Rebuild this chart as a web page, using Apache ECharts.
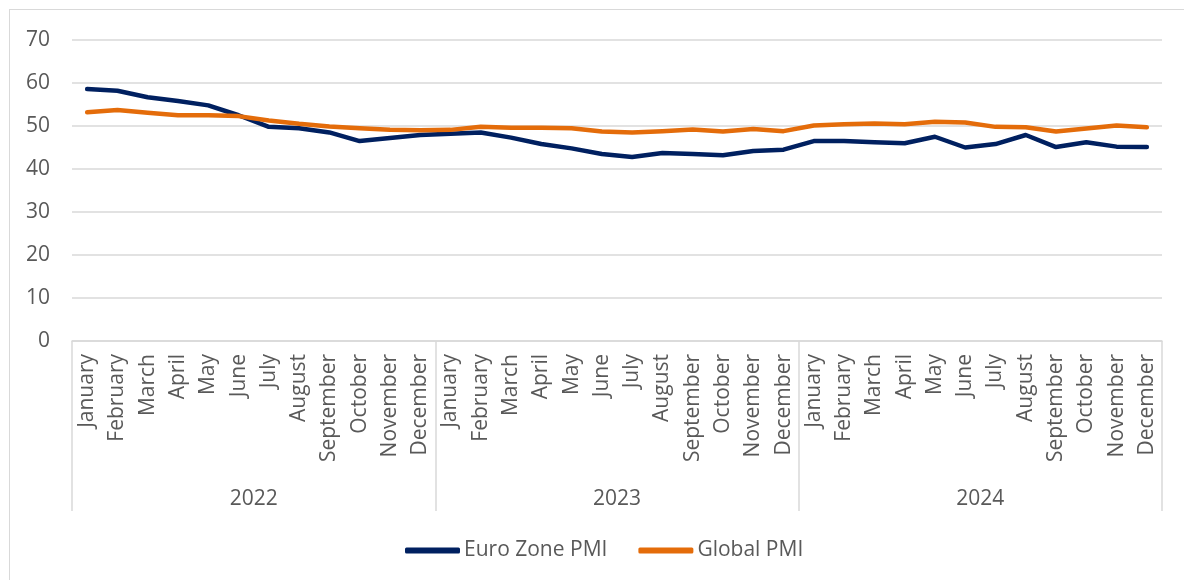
<!DOCTYPE html>
<html>
<head>
<meta charset="utf-8">
<script src="https://cdn.jsdelivr.net/npm/echarts@6/dist/echarts.min.js"></script>
<style>
html,body{margin:0;padding:0;background:#fff;}
#wrap{position:relative;width:1184px;height:580px;}
#chart{position:absolute;left:0;top:0;width:1184px;height:580px;}
#frame{position:absolute;left:9px;top:9px;right:0;bottom:0;border-left:1.5px solid #d9d9d9;border-top:1.5px solid #d9d9d9;pointer-events:none;}
</style>
</head>
<body>
<div id="wrap"><div id="chart"></div><div id="frame"></div></div>
<script>
const monthNames = ['January','February','March','April','May','June','July','August','September','October','November','December'];
const years = ['2022','2023','2024'];
const categories = [].concat(monthNames, monthNames, monthNames);
const euroZonePMI = [58.6,58.2,56.7,55.8,54.8,52.5,49.8,49.5,48.5,46.5,47.2,47.9,
                     48.2,48.5,47.3,45.8,44.8,43.5,42.8,43.7,43.5,43.2,44.2,44.5,
                     46.5,46.5,46.2,46.0,47.5,45.0,45.8,47.9,45.1,46.2,45.2,45.1];
const globalPMI = [53.2,53.7,53.1,52.5,52.5,52.3,51.3,50.5,49.9,49.5,49.1,49.0,
                   49.1,49.8,49.6,49.6,49.5,48.7,48.5,48.8,49.2,48.7,49.3,48.8,
                   50.1,50.4,50.6,50.4,51.0,50.8,49.8,49.7,48.7,49.4,50.1,49.7];
const yTicks = [0,10,20,30,40,50,60,70];

const FONT = "'Open Sans', sans-serif";
const TXT = '#595959';
const GRID = '#d9d9d9';
const FS = 21;

const chart = echarts.init(document.getElementById('chart'), null, {renderer:'canvas'});
chart.setOption({
  animation:false,
  textStyle:{fontFamily:FONT},
  grid:{left:72,right:22,top:40,bottom:239,containLabel:false},
  legend:{
    bottom:19, left:405,
    itemWidth:55, itemHeight:6, itemGap:31, icon:'roundRect', padding:0,
    textStyle:{fontFamily:FONT,fontSize:FS,color:TXT,padding:[0,0,0,-1]},
    data:['Euro Zone PMI','Global PMI']
  },
  xAxis:[{
    type:'category', data:categories, boundaryGap:true, position:'bottom',
    axisLine:{show:true,lineStyle:{color:GRID,width:1.5}},
    axisTick:{show:false},
    axisLabel:{interval:0,rotate:90,margin:13,fontSize:FS,color:TXT,fontFamily:FONT}
  },{
    type:'category', data:years, boundaryGap:true, position:'bottom', offset:0,
    axisLine:{show:false},
    axisTick:{show:true,inside:false,length:170,interval:0,lineStyle:{color:GRID,width:1.5}},
    axisLabel:{interval:0,margin:148,fontSize:FS,color:TXT,fontFamily:FONT}
  }],
  yAxis:{
    type:'value', min:yTicks[0], max:yTicks[yTicks.length-1], interval:10,
    axisLine:{show:false}, axisTick:{show:false},
    axisLabel:{margin:22,fontSize:FS,color:TXT,fontFamily:FONT},
    splitLine:{show:true,lineStyle:{color:GRID,width:1.5}}
  },
  series:[{
    name:'Euro Zone PMI', type:'line', data:euroZonePMI, xAxisIndex:0,
    symbol:'none', smooth:false,
    itemStyle:{color:'#002060'},
    lineStyle:{color:'#002060',width:4.5,cap:'round',join:'round'}
  },{
    name:'Global PMI', type:'line', data:globalPMI, xAxisIndex:0,
    symbol:'none', smooth:false,
    itemStyle:{color:'#E46C0A'},
    lineStyle:{color:'#E46C0A',width:4.5,cap:'round',join:'round'}
  }]
});
</script>
</body>
</html>
